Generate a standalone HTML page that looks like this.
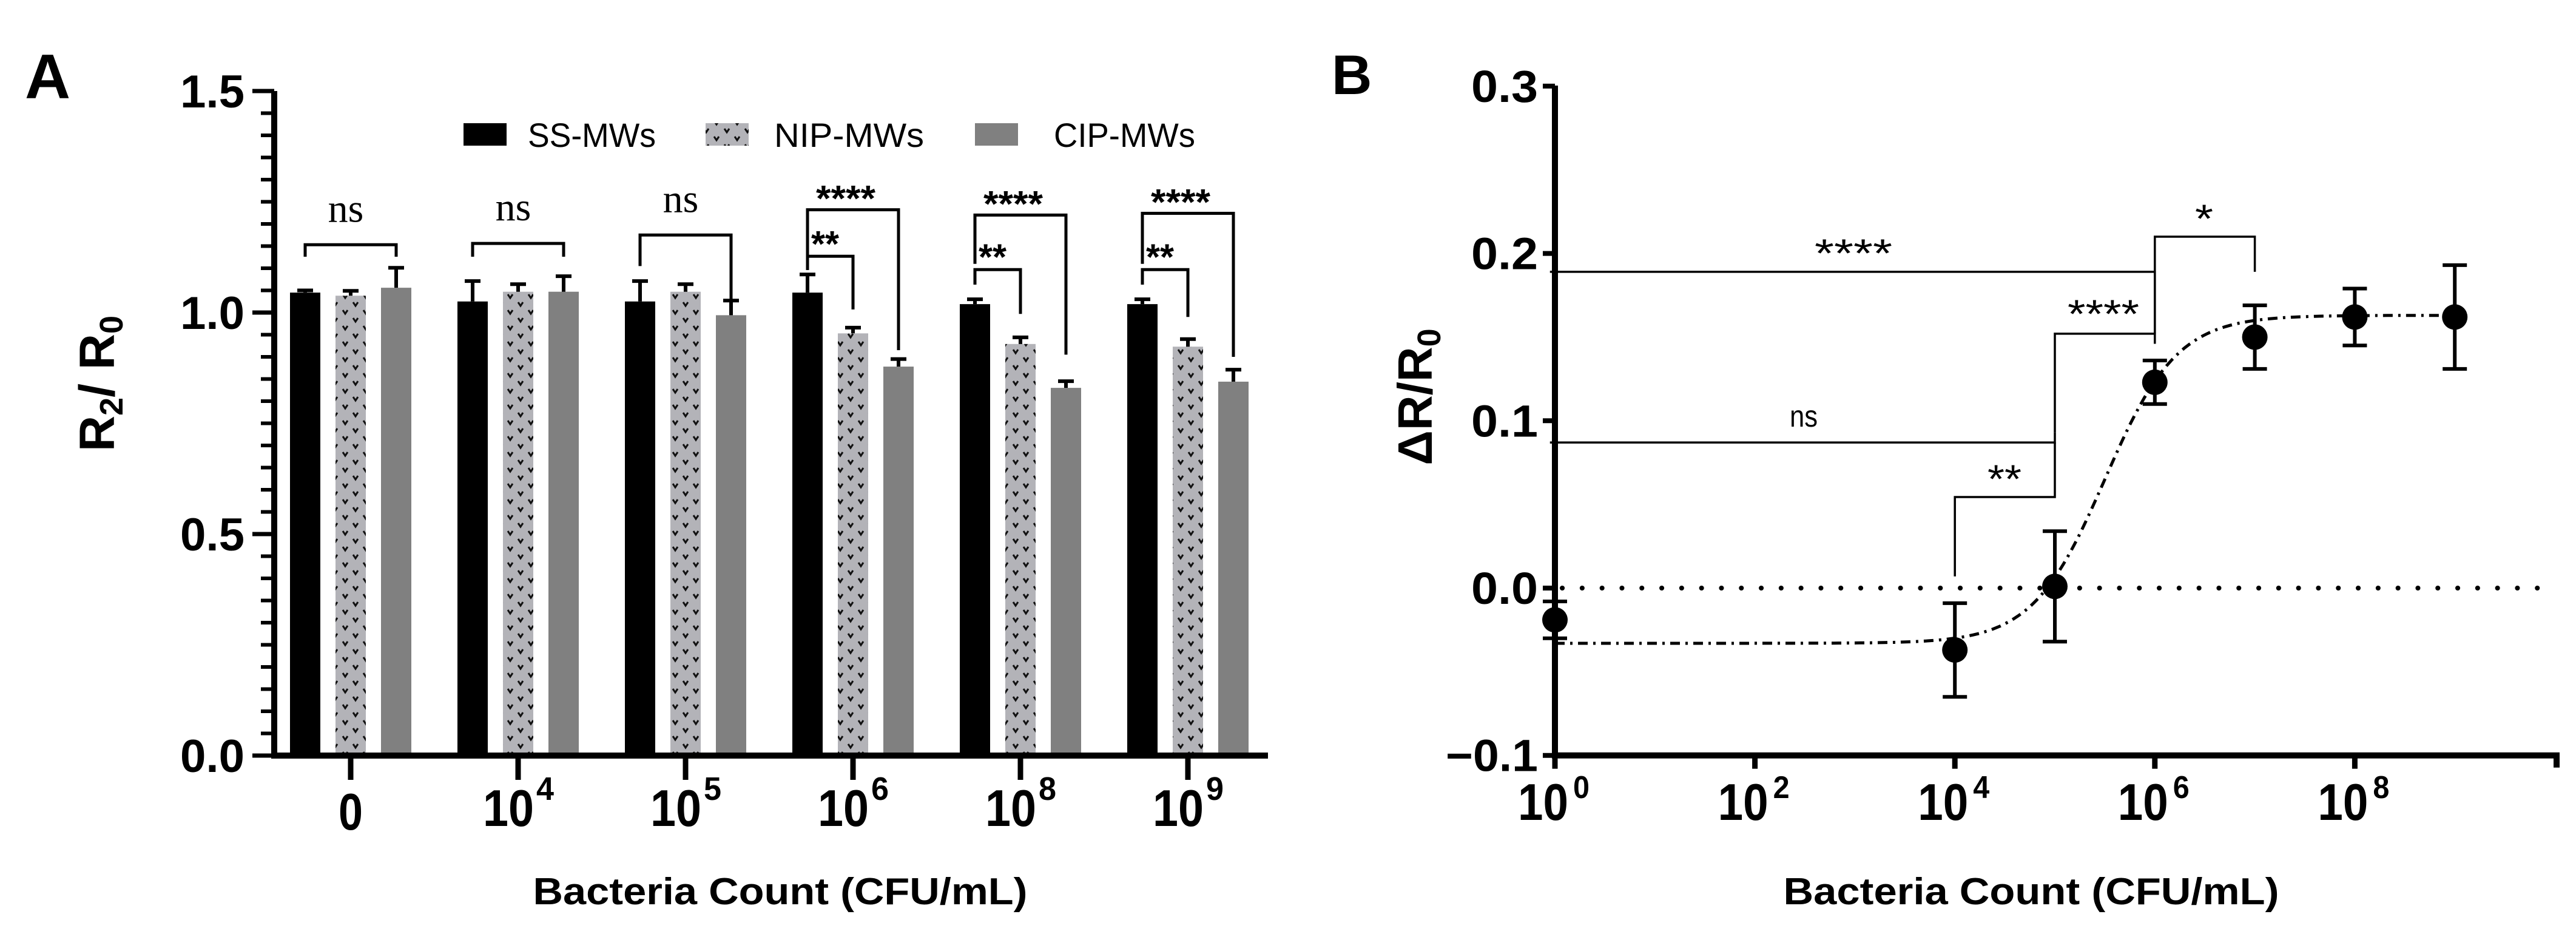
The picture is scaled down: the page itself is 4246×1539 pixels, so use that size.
<!DOCTYPE html>
<html><head><meta charset="utf-8"><title>Bacteria count response</title>
<style>
html,body{margin:0;padding:0;background:#fff;}
svg{display:block;font-family:"Liberation Sans",Arial,sans-serif;}
</style></head>
<body>
<svg id="fig" width="4246" height="1539" viewBox="0 0 4246 1539" xmlns="http://www.w3.org/2000/svg">
<defs>
<pattern id="nipPat" patternUnits="userSpaceOnUse" width="34" height="26">
<rect width="34" height="26" fill="#b3b3b8"/>
<path d="M4 4 L8 10 L12 4 M21 17 L25 23 L29 17" stroke="#111" stroke-width="3" fill="none"/>
</pattern>
</defs>
<g id="panelA"></g>
<g id="panelB"></g>
</svg>
<script>
// ---------- Panel A data ----------
const catLabels = ["0", "4", "5", "6", "8", "9"];
const seriesNames = ["SS-MWs", "NIP-MWs", "CIP-MWs"];
const ssMeans = [1.045, 1.025, 1.025, 1.045, 1.019, 1.019];
const ssErr = [0.005, 0.046, 0.046, 0.041, 0.011, 0.011];
const nipMeans = [1.038, 1.047, 1.047, 0.953, 0.929, 0.923];
const nipErr = [0.011, 0.017, 0.017, 0.013, 0.015, 0.017];
const cipMeans = [1.056, 1.047, 0.994, 0.878, 0.830, 0.844];
const cipErr = [0.045, 0.035, 0.033, 0.017, 0.015, 0.027];
const yTicksA = [0.0, 0.5, 1.0, 1.5];
const yTickLabelsA = ["0.0", "0.5", "1.0", "1.5"];
// significance brackets: group, from-bar, to-bar, level, left leg end, right leg end, label
const brGroup = [0, 1, 2, 3, 3, 4, 4, 5, 5];
const brFrom = [0, 0, 0, 0, 0, 0, 0, 0, 0];
const brTo = [2, 2, 2, 2, 1, 2, 1, 2, 1];
const brLevel = [1.153, 1.156, 1.175, 1.232, 1.127, 1.220, 1.097, 1.224, 1.097];
const brLegL = [1.126, 1.126, 1.105, 1.096, 1.096, 1.110, 1.063, 1.110, 1.063];
const brLegR = [1.126, 1.126, 1.027, 0.915, 1.007, 0.905, 0.997, 0.900, 0.990];
const brLabel = ["ns", "ns", "ns", "****", "**", "****", "**", "****", "**"];

// ---------- Panel B data ----------
const bLogX = [0, 4, 5, 6, 7, 8, 9];
const bMeans = [-0.019, -0.037, 0.001, 0.123, 0.150, 0.162, 0.162];
const bErr = [0.011, 0.028, 0.033, 0.013, 0.019, 0.017, 0.031];
const yTicksB = [-0.1, 0.0, 0.1, 0.2, 0.3];
const yTickLabelsB = ["\u22120.1", "0.0", "0.1", "0.2", "0.3"];
const xTicksB = [0, 2, 4, 6, 8];
const fitBottom = [-0.033];
const fitTop = [0.163];
const fitLogEC50 = [5.5];
const fitHill = [1.2];
// B brackets: x1(log), x2(log), level, left leg end, right leg end, label
const bbX1 = [-0.05, 6, 5, -0.05, 4];
const bbX2 = [6, 7, 6, 5, 5];
const bbLevel = [0.189, 0.210, 0.152, 0.087, 0.0544];
const bbLegL = [0.189, 0.152, 0.093, 0.087, 0.007];
const bbLegR = [0.152, 0.189, 0.146, 0.093, 0.087];
const bbLabel = ["****", "*", "****", "ns", "**"];

const NS = "http://www.w3.org/2000/svg";
function mk(parent, tag, attrs, text) {
  const el = document.createElementNS(NS, tag);
  for (const k in attrs) el.setAttribute(k, attrs[k]);
  if (text !== undefined) el.textContent = text;
  parent.appendChild(el);
  return el;
}

// ---------- Panel A ----------
const A = document.getElementById("panelA");
const axA = 452, y0A = 1245, pxPerA = 730;
function yA(v) { return y0A - v * pxPerA; }
function groupX(i) { return 578 + i * 276; }
function barX(g, s) { return groupX(g) + (s - 1) * 75; }
const barW = 50;

let t = mk(A, "text", {x: 41, y: 162, "font-size": 104, "font-weight": "bold"}, "A");



const allMeans = [ssMeans, nipMeans, cipMeans];
const allErr = [ssErr, nipErr, cipErr];
const fills = ["#000", "url(#nipPat)", "#808080"];
for (let s = 0; s < 3; s++) {
  for (let g = 0; g < catLabels.length; g++) {
    const cx = barX(g, s), m = allMeans[s][g], e = allErr[s][g];
    const r = mk(A, "rect", {x: cx - barW / 2, y: yA(m), width: barW, height: yA(0) - yA(m), fill: fills[s]});
    
    
    const eb = mk(A, "path", {d: `M${cx} ${yA(m)} V${yA(m + e)} M${cx - 13} ${yA(m + e)} H${cx + 13}`, stroke: "#000", "stroke-width": 6, fill: "none"});
    
    
  }
}
let ax = mk(A, "path", {d: `M${axA} 150 V${y0A + 5} M${axA - 5} ${y0A} H2090`, stroke: "#000", "stroke-width": 10, fill: "none"});


for (let k = 1; k < 30; k++) {
  if (k % 10 === 0) continue;
  const v = k * 0.05;
  const mt = mk(A, "line", {x1: axA - 22, x2: axA, y1: yA(v), y2: yA(v), stroke: "#000", "stroke-width": 6});
  
  
}
yTicksA.forEach((v, i) => {
  const tk = mk(A, "line", {x1: axA - 36, x2: axA, y1: yA(v), y2: yA(v), stroke: "#000", "stroke-width": 7});
  
  
  const lb = mk(A, "text", {x: 403, y: yA(v) + 27, "font-size": 76, "font-weight": "bold", "text-anchor": "end", textLength: 106, lengthAdjust: "spacingAndGlyphs"}, yTickLabelsA[i]);
  
  
});
catLabels.forEach((c, g) => {
  const cx = groupX(g);
  const tk = mk(A, "line", {x1: cx, x2: cx, y1: y0A, y2: y0A + 40, stroke: "#000", "stroke-width": 9});
  
  
  if (c === "0") {
    const lb = mk(A, "text", {x: cx, y: 1367, "font-size": 85, "font-weight": "bold", "text-anchor": "middle", textLength: 40, lengthAdjust: "spacingAndGlyphs"}, "0");
    
    
  } else {
    const lb = mk(A, "text", {x: cx - 58, y: 1361, "font-size": 85, "font-weight": "bold", textLength: 84, lengthAdjust: "spacingAndGlyphs"}, "10");
    
    
    const sp = mk(A, "text", {x: cx + 30, y: 1318, "font-size": 54, "font-weight": "bold", textLength: 29, lengthAdjust: "spacingAndGlyphs"}, c);
    
    
  }
});
brLabel.forEach((lab, i) => {
  const x1 = barX(brGroup[i], brFrom[i]), x2 = barX(brGroup[i], brTo[i]);
  const p = mk(A, "path", {d: `M${x1} ${yA(brLegL[i])} V${yA(brLevel[i])} H${x2} V${yA(brLegR[i])}`, stroke: "#000", "stroke-width": 5, fill: "none"});
  
  
  let tx;
  if (lab === "ns") {
    tx = mk(A, "text", {x: (x1 + x2) / 2 - 8, y: yA(brLevel[i]) - 38, "font-size": 66, "font-family": "Liberation Serif, serif", "text-anchor": "middle"}, lab);
  } else if (lab === "****") {
    tx = mk(A, "text", {x: (x1 + x2) / 2 - 12, y: yA(brLevel[i]) + 2, "font-size": 60, "font-weight": "bold", "text-anchor": "middle", textLength: 98, lengthAdjust: "spacingAndGlyphs"}, lab);
  } else {
    tx = mk(A, "text", {x: x1 + 6, y: yA(brLevel[i]) + 0, "font-size": 60, "font-weight": "bold", textLength: 46, lengthAdjust: "spacingAndGlyphs"}, lab);
  }
  
  
});
const legX = [764, 1163, 1607], legTX = [870, 1276, 1737], legW = [211, 247, 233];
seriesNames.forEach((n, s) => {
  const sw = mk(A, "rect", {x: legX[s], y: 203, width: 71, height: 37, fill: fills[s]});
  
  
  const lt = mk(A, "text", {x: legTX[s], y: 242, "font-size": 56, textLength: legW[s], lengthAdjust: "spacingAndGlyphs"}, n);
  
  
});
let yt = mk(A, "text", {transform: "translate(188,632) rotate(-90)", "font-size": 82, "font-weight": "bold", "text-anchor": "middle"});


mk(yt, "tspan", {}, "R");
mk(yt, "tspan", {"font-size": 54, dy: 14}, "2");
mk(yt, "tspan", {dy: -14}, "/ R");
mk(yt, "tspan", {"font-size": 54, dy: 14}, "0");
let xt = mk(A, "text", {x: 1286, y: 1490, "font-size": 62, "font-weight": "bold", "text-anchor": "middle", textLength: 815, lengthAdjust: "spacingAndGlyphs"}, "Bacteria Count (CFU/mL)");



// ---------- Panel B ----------
const B = document.getElementById("panelB");
const axB = 2563, y0B = 969, pxPerB = 2757, decB = 164.8;
function yB(v) { return y0B - v * pxPerB; }
function xB(lg) { return axB + lg * decB; }

t = mk(B, "text", {x: 2195, y: 155, "font-size": 92, "font-weight": "bold"}, "B");



let zl = mk(B, "line", {x1: xB(0) + 12, x2: xB(10), y1: yB(0), y2: yB(0), stroke: "#000", "stroke-width": 8, "stroke-linecap": "round", "stroke-dasharray": "0.1 32.7"});


bbLabel.forEach((lab, i) => {
  const x1 = xB(bbX1[i]), x2 = xB(bbX2[i]);
  const p = mk(B, "path", {d: `M${x1} ${yB(bbLegL[i])} V${yB(bbLevel[i])} H${x2} V${yB(bbLegR[i])}`, stroke: "#000", "stroke-width": 3.5, fill: "none"});
  
  
});
const bbTX = [3055, 3633, 3467, 2973, 3304], bbTY = [440, 383, 540, 703, 812], bbTL = [128, 30, 118, 46, 56];
bbLabel.forEach((lab, i) => {
  const tx = mk(B, "text", {x: bbTX[i], y: bbTY[i], "font-size": lab === "ns" ? 50 : 66, "text-anchor": "middle", textLength: bbTL[i], lengthAdjust: "spacingAndGlyphs"}, lab);
  
  
});
let d = "";
for (let k = 0; k <= 200; k++) {
  const lg = k * 9 / 200;
  const v = fitBottom[0] + (fitTop[0] - fitBottom[0]) / (1 + Math.pow(10, (fitLogEC50[0] - lg) * fitHill[0]));
  d += (k ? "L" : "M") + xB(lg).toFixed(1) + " " + yB(v).toFixed(1);
}
let fc = mk(B, "path", {d: d, stroke: "#000", "stroke-width": 5, fill: "none", "stroke-dasharray": "16 9 4 9"});


bLogX.forEach((lg, i) => {
  const cx = xB(lg), m = bMeans[i], e = bErr[i];
  const eb = mk(B, "path", {d: `M${cx} ${yB(m + e)} V${yB(m - e)} M${cx - 20} ${yB(m + e)} H${cx + 20} M${cx - 20} ${yB(m - e)} H${cx + 20}`, stroke: "#000", "stroke-width": 6, fill: "none"});
  
  
  const c = mk(B, "ellipse", {cx: cx, cy: yB(m), rx: 21, ry: 21, fill: "#000"});
  
  
});
ax = mk(B, "path", {d: `M${axB} 141 V${yB(-0.1) + 5} M${axB - 5} ${yB(-0.1)} H${xB(10) + 3} V${yB(-0.1) + 20}`, stroke: "#000", "stroke-width": 10, fill: "none"});


yTicksB.forEach((v, i) => {
  const tk = mk(B, "line", {x1: axB - 20, x2: axB, y1: yB(v), y2: yB(v), stroke: "#000", "stroke-width": 8});
  
  
  const lb = mk(B, "text", {x: 2535, y: yB(v) + 26, "font-size": 74, "font-weight": "bold", "text-anchor": "end", textLength: i === 0 ? 152 : 110, lengthAdjust: "spacingAndGlyphs"}, yTickLabelsB[i]);
  
  
});
xTicksB.forEach(lg => {
  const cx = xB(lg);
  const tk = mk(B, "line", {x1: cx, x2: cx, y1: yB(-0.1), y2: yB(-0.1) + 22, stroke: "#000", "stroke-width": 9});
  
  
  const lb = mk(B, "text", {x: cx - 61, y: 1351, "font-size": 85, "font-weight": "bold", textLength: 83, lengthAdjust: "spacingAndGlyphs"}, "10");
  
  
  const sp = mk(B, "text", {x: cx + 30, y: 1315, "font-size": 52, "font-weight": "bold", textLength: 27, lengthAdjust: "spacingAndGlyphs"}, String(lg));
  
  
});
yt = mk(B, "text", {transform: "translate(2360,654) rotate(-90)", "font-size": 80, "font-weight": "bold", "text-anchor": "middle"});


mk(yt, "tspan", {}, "\u0394R/R");
mk(yt, "tspan", {"font-size": 54, dy: 14}, "0");
xt = mk(B, "text", {x: 3348, y: 1490, "font-size": 62, "font-weight": "bold", "text-anchor": "middle", textLength: 817, lengthAdjust: "spacingAndGlyphs"}, "Bacteria Count (CFU/mL)");


</script>
</body></html>
